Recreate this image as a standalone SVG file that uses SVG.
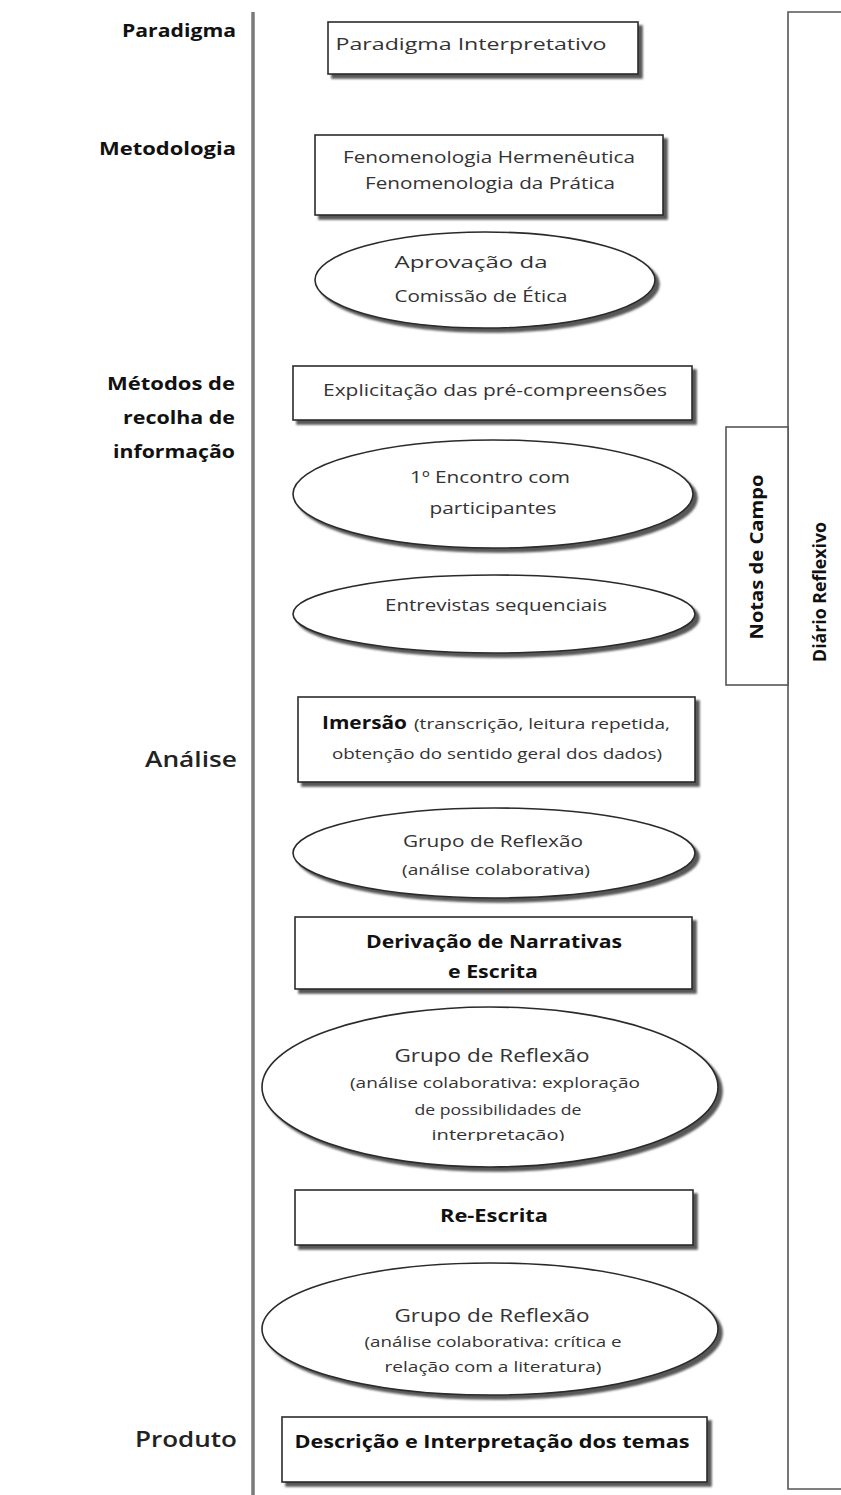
<svg xmlns="http://www.w3.org/2000/svg" width="841" height="1495" viewBox="0 0 841 1495">
<defs>
<filter id="sh" x="-10%" y="-10%" width="125%" height="140%">
<feDropShadow dx="4" dy="4" stdDeviation="1.2" flood-color="#3a3a3a" flood-opacity="0.85"/>
</filter>
<clipPath id="clip10"><rect x="250" y="1000" width="480" height="141"/></clipPath>
<style>
.box{fill:#fff;stroke:#2a2a2a;stroke-width:1.6}
.t{font-family:"Open Sans","Liberation Sans",sans-serif;font-size:16.5px;fill:#333;text-anchor:middle}
.s{font-family:"Open Sans","Liberation Sans",sans-serif;font-size:15px;fill:#333;text-anchor:middle}
.b{font-family:"Open Sans","Liberation Sans",sans-serif;font-size:17px;font-weight:bold;fill:#111;text-anchor:middle}
.lab{font-family:"Open Sans","Liberation Sans",sans-serif;font-size:17px;font-weight:bold;fill:#111;text-anchor:end}
.lab2{font-family:"Open Sans","Liberation Sans",sans-serif;font-size:22px;font-weight:600;fill:#222;text-anchor:end}
.frame{fill:none;stroke:#555;stroke-width:1.6}
</style>
</defs>
<rect width="841" height="1495" fill="#fff"/>

<g id="labels">
<text class="lab" x="236" y="37" textLength="114" lengthAdjust="spacingAndGlyphs">Paradigma</text>
<text class="lab" x="236" y="155" textLength="137" lengthAdjust="spacingAndGlyphs">Metodologia</text>
<text class="lab" x="235" y="390" textLength="128" lengthAdjust="spacingAndGlyphs">Métodos de</text>
<text class="lab" x="235" y="424" textLength="112" lengthAdjust="spacingAndGlyphs">recolha de</text>
<text class="lab" x="235" y="458" textLength="122" lengthAdjust="spacingAndGlyphs">informação</text>
<text class="lab2" x="237" y="767" textLength="92" lengthAdjust="spacingAndGlyphs">Análise</text>
<text class="lab2" x="237" y="1447" textLength="102" lengthAdjust="spacingAndGlyphs">Produto</text>
</g>

<g id="frame">
<line x1="253" y1="12" x2="253" y2="1495" stroke="#7a7a7a" stroke-width="3.5"/>
<polyline class="frame" points="841,12 788,12 788,1489 841,1489"/>
</g>

<g id="connectors"></g>

<g id="notas-de-campo">
<rect x="726" y="427" width="62" height="258" fill="#fff" stroke="#555" stroke-width="1.6"/>
<text class="b" transform="translate(763,557) rotate(-90)" textLength="165" lengthAdjust="spacingAndGlyphs">Notas de Campo</text>
</g>

<g id="diario-reflexivo">
<text class="b" transform="translate(826,592) rotate(-90)" textLength="140" lengthAdjust="spacingAndGlyphs">Diário Reflexivo</text>
</g>

<g id="n1">
<rect class="box" x="328" y="22" width="310" height="52" filter="url(#sh)"/>
<text class="t" x="471" y="50" textLength="271" lengthAdjust="spacingAndGlyphs">Paradigma Interpretativo</text>
</g>

<g id="n2">
<rect class="box" x="315" y="135" width="348" height="80" filter="url(#sh)"/>
<text class="t" x="489" y="163" textLength="292" lengthAdjust="spacingAndGlyphs">Fenomenologia Hermenêutica</text>
<text class="t" x="490" y="189" textLength="250" lengthAdjust="spacingAndGlyphs">Fenomenologia da Prática</text>
</g>

<g id="n3">
<ellipse class="box" cx="485" cy="280" rx="170" ry="48" filter="url(#sh)"/>
<text class="t" x="471" y="268" textLength="153" lengthAdjust="spacingAndGlyphs">Aprovação da</text>
<text class="t" x="481" y="302" textLength="173" lengthAdjust="spacingAndGlyphs">Comissão de Ética</text>
</g>

<g id="n4">
<rect class="box" x="293" y="366" width="399" height="54" filter="url(#sh)"/>
<text class="t" x="495" y="396" textLength="344" lengthAdjust="spacingAndGlyphs">Explicitação das pré-compreensões</text>
</g>

<g id="n5">
<ellipse class="box" cx="493" cy="494" rx="200" ry="54" filter="url(#sh)"/>
<text class="t" x="490" y="483" textLength="160" lengthAdjust="spacingAndGlyphs">1º Encontro com</text>
<text class="t" x="493" y="514" textLength="127" lengthAdjust="spacingAndGlyphs">participantes</text>
</g>

<g id="n6">
<ellipse class="box" cx="494" cy="614" rx="201" ry="39" filter="url(#sh)"/>
<text class="t" x="496" y="611" textLength="222" lengthAdjust="spacingAndGlyphs">Entrevistas sequenciais</text>
</g>

<g id="n7">
<rect class="box" x="298" y="697" width="397" height="85" filter="url(#sh)"/>
<text x="322" y="729" style="font-family:'Open Sans','Liberation Sans',sans-serif;font-size:17px;font-weight:bold;fill:#111" textLength="85" lengthAdjust="spacingAndGlyphs">Imersão</text>
<text x="414" y="729" style="font-family:'Open Sans','Liberation Sans',sans-serif;font-size:15px;fill:#333" textLength="256" lengthAdjust="spacingAndGlyphs">(transcrição, leitura repetida,</text>
<text class="s" x="497" y="759" textLength="330" lengthAdjust="spacingAndGlyphs">obtenção do sentido geral dos dados)</text>
</g>

<g id="n8">
<ellipse class="box" cx="494" cy="853" rx="201" ry="45" filter="url(#sh)"/>
<text class="t" x="493" y="847" textLength="180" lengthAdjust="spacingAndGlyphs">Grupo de Reflexão</text>
<text class="s" x="496" y="875" textLength="188" lengthAdjust="spacingAndGlyphs">(análise colaborativa)</text>
</g>

<g id="n9">
<rect class="box" x="295" y="917" width="397" height="72" filter="url(#sh)"/>
<text class="b" x="494" y="948" textLength="256" lengthAdjust="spacingAndGlyphs">Derivação de Narrativas</text>
<text class="b" x="493" y="978" textLength="90" lengthAdjust="spacingAndGlyphs">e Escrita</text>
</g>

<g id="n10">
<ellipse class="box" cx="490" cy="1087" rx="228" ry="80" filter="url(#sh)"/>
<text class="t" x="492" y="1062" textLength="195" lengthAdjust="spacingAndGlyphs" style="font-size:18px">Grupo de Reflexão</text>
<text class="s" x="495" y="1088" textLength="290" lengthAdjust="spacingAndGlyphs">(análise colaborativa: exploração</text>
<text class="s" x="498" y="1115" textLength="167" lengthAdjust="spacingAndGlyphs">de possibilidades de</text>
<text class="s" x="498" y="1140" textLength="133" lengthAdjust="spacingAndGlyphs" clip-path="url(#clip10)">interpretação)</text>
</g>

<g id="n11">
<rect class="box" x="295" y="1190" width="398" height="55" filter="url(#sh)"/>
<text class="b" x="494" y="1222" textLength="108" lengthAdjust="spacingAndGlyphs">Re-Escrita</text>
</g>

<g id="n12">
<ellipse class="box" cx="490" cy="1329" rx="228" ry="66" filter="url(#sh)"/>
<text class="t" x="492" y="1322" textLength="195" lengthAdjust="spacingAndGlyphs" style="font-size:18px">Grupo de Reflexão</text>
<text class="s" x="493" y="1347" textLength="257" lengthAdjust="spacingAndGlyphs">(análise colaborativa: crítica e</text>
<text class="s" x="493" y="1372" textLength="217" lengthAdjust="spacingAndGlyphs">relação com a literatura)</text>
</g>

<g id="n13">
<rect class="box" x="282" y="1417" width="425" height="65" filter="url(#sh)"/>
<text class="b" x="492" y="1448" textLength="395" lengthAdjust="spacingAndGlyphs">Descrição e Interpretação dos temas</text>
</g>
</svg>
